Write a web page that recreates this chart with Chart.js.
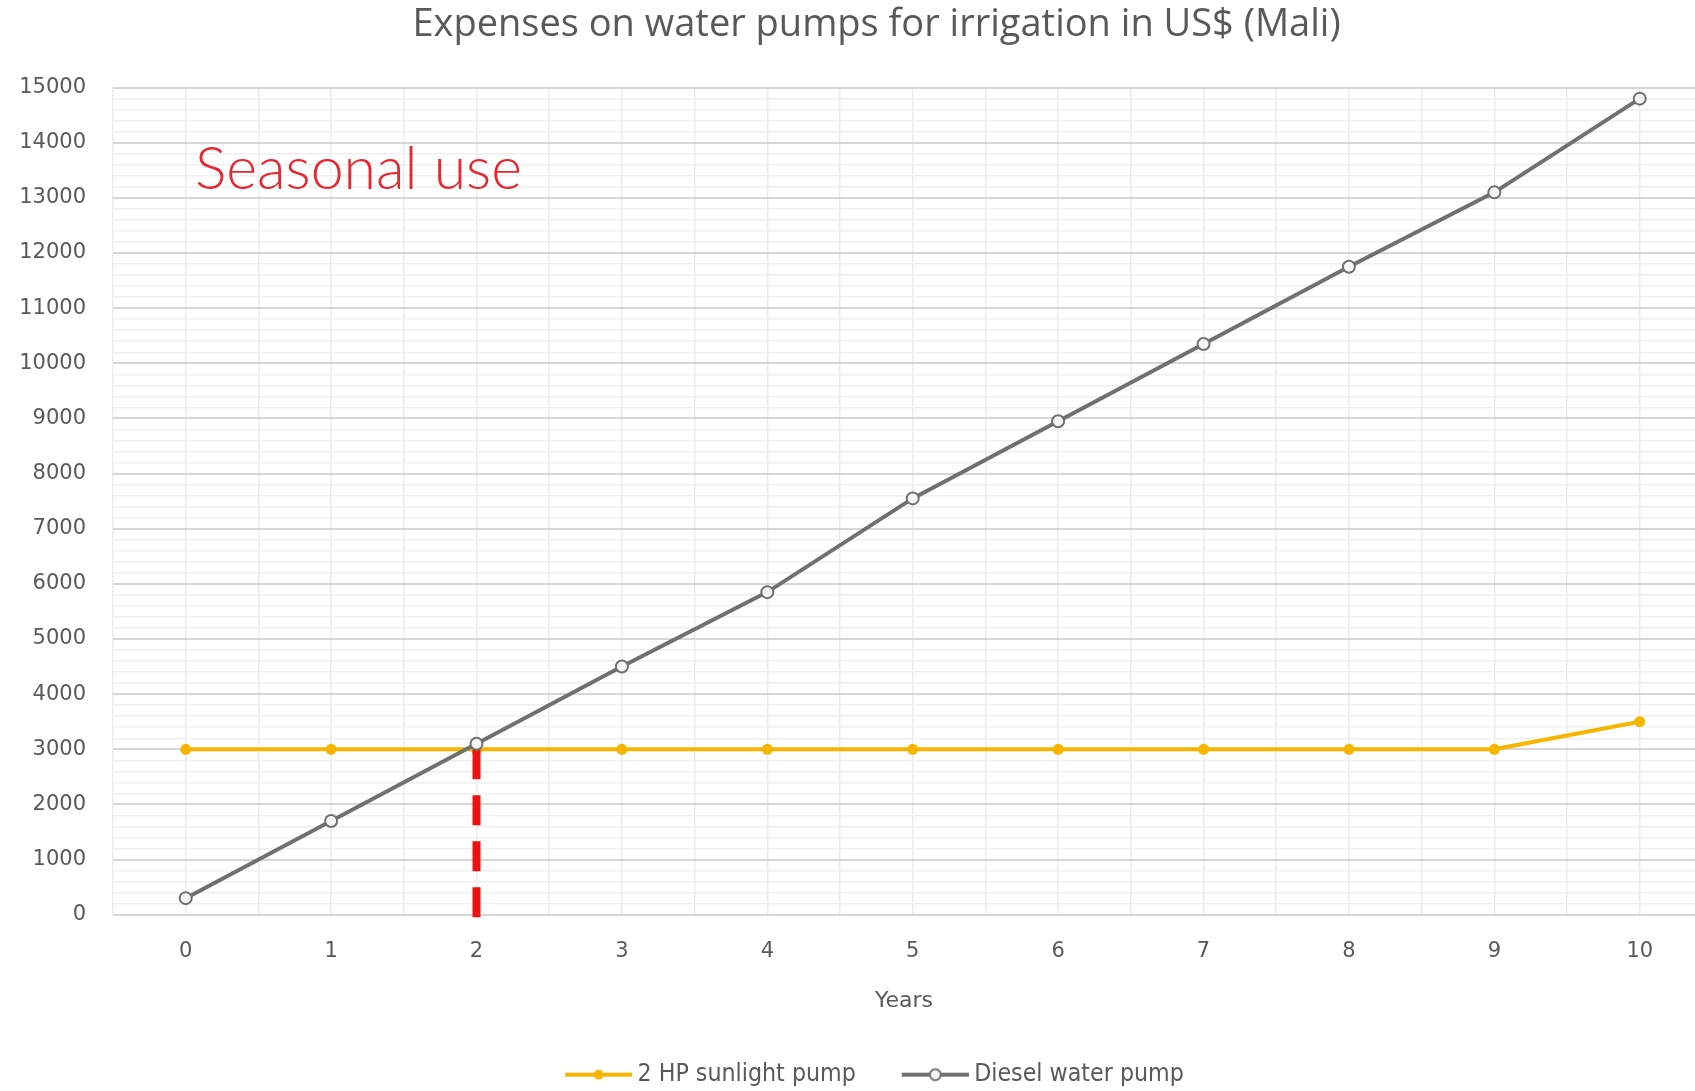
<!DOCTYPE html>
<html>
<head>
<meta charset="utf-8">
<script src="https://cdn.jsdelivr.net/npm/chart.js@4.4.1/dist/chart.umd.min.js"></script>
<style>
  html, body { margin: 0; padding: 0; background: #ffffff; overflow: hidden; }
  #wrap { width: 1695px; height: 1091px; position: relative; }
</style>
</head>
<body>
<div id="wrap"><canvas id="c" width="1695" height="1091"></canvas></div>
<script>
// ---- data ----
const years = [0, 1, 2, 3, 4, 5, 6, 7, 8, 9, 10];
const sunlightPump = [3000, 3000, 3000, 3000, 3000, 3000, 3000, 3000, 3000, 3000, 3500];
const dieselPump = [300, 1700, 3100, 4500, 5850, 7550, 8950, 10350, 11750, 13100, 14800];
const seriesNames = ['2 HP sunlight pump', 'Diesel water pump'];
const breakEvenYear = 2;
const breakEvenLine = [3000, -130];
const yMin = 0, yMax = 15000, yMajorStep = 1000, yMinorStep = 200;
const xMin = -0.5, xMax = 10.38, xGridStep = 0.5, xLastTick = 10;
const titleText = 'Expenses on water pumps for irrigation in US$ (Mali)';
const xTitle = 'Years';
const noteText = 'Seasonal use';

const YELLOW = '#F7B500';
const GRAY = '#707070';
const RED = '#EE1111';
const TXT = '#595959';
const FONT = "'Open Sans', 'Noto Sans', sans-serif";
const TICKFONT = "'DejaVu Sans', sans-serif";
const NARROW = "'DejaVu Sans Condensed', 'Liberation Sans Narrow', 'DejaVu Sans', sans-serif";
const TITLE_LEFT = 58;   // title is centred a little right of the canvas centre
const LEGEND_LEFT = 52;  // same for the legend row
const CANVAS_W = 1695;

function legendIcon(kind) {
  const cv = document.createElement('canvas');
  cv.width = 76; cv.height = 16;
  const g = cv.getContext('2d');
  g.lineWidth = 4;
  g.strokeStyle = kind === 0 ? YELLOW : GRAY;
  g.beginPath(); g.moveTo(9, 8); g.lineTo(76, 8); g.stroke();
  g.beginPath(); g.arc(42.5, 8, kind === 0 ? 5 : 5.5, 0, Math.PI * 2);
  if (kind === 0) { g.fillStyle = YELLOW; g.fill(); }
  else { g.fillStyle = '#f4f4f4'; g.fill(); g.lineWidth = 2; g.stroke(); }
  return cv;
}
const icons = [legendIcon(0), legendIcon(1)];

const notePlugin = {
  id: 'note',
  afterLayout(chart) {
    if (chart.titleBlock) { chart.titleBlock.left = TITLE_LEFT; chart.titleBlock.right = CANVAS_W; }
    if (chart.legend) { chart.legend.left = LEGEND_LEFT; chart.legend.right = CANVAS_W; }
  },
  afterDatasetsDraw(chart) {
    const ctx = chart.ctx;
    const a = chart.chartArea;
    ctx.save();
    ctx.font = "300 59px Lato, 'Open Sans', sans-serif";
    ctx.fillStyle = '#E8262F';
    ctx.textBaseline = 'middle';
    ctx.textAlign = 'left';
    ctx.fillText(noteText, a.left + 82, 170);
    ctx.restore();
  }
};

const ctx = document.getElementById('c').getContext('2d');
new Chart(ctx, {
  type: 'line',
  data: {
    datasets: [
      {
        label: seriesNames[1],
        data: years.map((x, i) => ({ x, y: dieselPump[i] })),
        borderColor: GRAY,
        backgroundColor: '#f4f4f4',
        borderWidth: 4,
        pointRadius: 6,
        pointBorderWidth: 2,
        pointBorderColor: GRAY,
        pointBackgroundColor: '#f4f4f4',
        tension: 0,
        order: 1
      },
      {
        label: '_breakeven',
        data: breakEvenLine.map(y => ({ x: breakEvenYear, y })),
        borderColor: RED,
        borderWidth: 8,
        borderDash: [30, 16],
        pointRadius: 0,
        clip: false,
        order: 2
      },
      {
        label: seriesNames[0],
        data: years.map((x, i) => ({ x, y: sunlightPump[i] })),
        borderColor: YELLOW,
        backgroundColor: YELLOW,
        borderWidth: 4,
        pointRadius: 5.5,
        pointBorderWidth: 0,
        pointBackgroundColor: YELLOW,
        tension: 0,
        order: 3
      }
    ]
  },
  options: {
    responsive: false,
    animation: false,
    layout: { autoPadding: false, padding: { left: 0, right: 0, top: 2, bottom: -6 } },
    plugins: {
      title: {
        display: true,
        text: titleText,
        color: TXT,
        font: { family: FONT, size: 38, weight: 'normal' },
        padding: { top: 0, bottom: 40 }
      },
      legend: {
        position: 'bottom',
        labels: {
          usePointStyle: true,
          pointStyleWidth: 62,
          color: TXT,
          font: { family: NARROW, size: 24.7 },
          padding: 44,
          generateLabels() {
            return [0, 1].map(k => ({
              text: seriesNames[k],
              pointStyle: icons[k],
              fillStyle: k === 0 ? YELLOW : GRAY,
              strokeStyle: k === 0 ? YELLOW : GRAY,
              lineWidth: 0,
              hidden: false,
              datasetIndex: k === 0 ? 2 : 0,
              fontColor: TXT
            }));
          }
        }
      },
      tooltip: { enabled: false }
    },
    scales: {
      x: {
        type: 'linear',
        min: xMin,
        max: xMax,
        border: { display: false },
        afterBuildTicks(scale) {
          const t = [];
          for (let v = xMin; v <= xLastTick + 1e-9; v += xGridStep) t.push({ value: Math.round(v * 10) / 10 });
          scale.ticks = t;
        },
        grid: {
          drawTicks: false,
          color: '#ebebeb',
          lineWidth: 1.5
        },
        ticks: {
          autoSkip: false,
          maxRotation: 0,
          color: TXT,
          padding: 24,
          font: { family: TICKFONT, size: 21 },
          callback: v => (Number.isInteger(v) && v >= 0 ? String(v) : '')
        },
        title: {
          display: true,
          text: xTitle,
          color: TXT,
          font: { family: TICKFONT, size: 22 },
          padding: { top: 0, bottom: 4 }
        }
      },
      y: {
        min: yMin,
        max: yMax,
        border: { display: false },
        afterFit(scale) { scale.width = 113; },
        grid: {
          drawTicks: false,
          color: c => (c.tick.value % yMajorStep === 0 ? '#d6d6d6' : '#efefef'),
          lineWidth: c => (c.tick.value % yMajorStep === 0 ? 2 : 1.5)
        },
        ticks: {
          stepSize: yMinorStep,
          autoSkip: false,
          color: TXT,
          padding: 27,
          font: { family: TICKFONT, size: 21 },
          callback: v => (v % yMajorStep === 0 ? String(v) : '')
        }
      }
    }
  },
  plugins: [notePlugin]
});
</script>
</body>
</html>
